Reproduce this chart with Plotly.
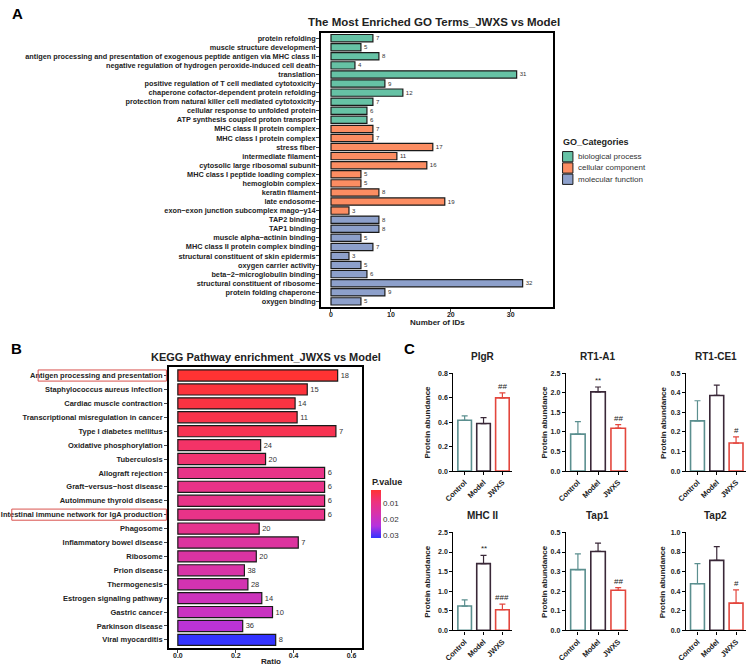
import plotly.graph_objects as go

W, H = 753, 672

# ---------------- Panel A data ----------------
bp_terms = ["protein refolding", "muscle structure development",
            "antigen processing and presentation of exogenous peptide antigen via MHC class II",
            "negative regulation of hydrogen peroxide-induced cell death", "translation",
            "positive regulation of T cell mediated cytotoxicity",
            "chaperone cofactor-dependent protein refolding",
            "protection from natural killer cell mediated cytotoxicity",
            "cellular response to unfolded protein", "ATP synthesis coupled proton transport"]
bp_counts = [7, 5, 8, 4, 31, 9, 12, 7, 6, 6]
cc_terms = ["MHC class II protein complex", "MHC class I protein complex", "stress fiber",
            "intermediate filament", "cytosolic large ribosomal subunit",
            "MHC class I peptide loading complex", "hemoglobin complex", "keratin filament",
            "late endosome", "exon\u2212exon junction subcomplex mago\u2212y14"]
cc_counts = [7, 7, 17, 11, 16, 5, 5, 8, 19, 3]
mf_terms = ["TAP2 binding", "TAP1 binding", "muscle alpha\u2212actinin binding",
            "MHC class II protein complex binding", "structural constituent of skin epidermis",
            "oxygen carrier activity", "beta\u22122\u2212microglobulin binding",
            "structural constituent of ribosome", "protein folding chaperone", "oxygen binding"]
mf_counts = [8, 8, 5, 7, 3, 5, 6, 32, 9, 5]
go_names = ["biological process", "cellular component", "molecular function"]
go_colors = ["#66c2a5", "#fc8d62", "#8da0cb"]

# ---------------- Panel B data ----------------
pathways = ["Antigen processing and presentation", "Staphylococcus aureus infection",
            "Cardiac muscle contraction", "Transcriptional misregulation in cancer",
            "Type I diabetes mellitus", "Oxidative phosphorylation", "Tuberculosis",
            "Allograft rejection", "Graft\u2212versus\u2212host disease", "Autoimmune thyroid disease",
            "Intestinal immune network for IgA production", "Phagosome",
            "Inflammatory bowel disease", "Ribosome", "Prion disease", "Thermogenesis",
            "Estrogen signaling pathway", "Gastric cancer", "Parkinson disease", "Viral myocarditis"]
ratios = [0.552, 0.447, 0.405, 0.412, 0.546, 0.286, 0.303, 0.507, 0.507, 0.507,
          0.507, 0.281, 0.416, 0.271, 0.230, 0.242, 0.290, 0.327, 0.224, 0.338]
kegg_counts = [18, 15, 14, 11, 7, 24, 20, 6, 6, 6, 6, 20, 7, 20, 38, 28, 14, 10, 36, 8]
pvals = [0.0017, 0.0026, 0.0032, 0.0040, 0.0047, 0.0068, 0.0077, 0.0107, 0.0107, 0.0107,
         0.0107, 0.0116, 0.0143, 0.0149, 0.0157, 0.0173, 0.0190, 0.0197, 0.0227, 0.0316]
p_ticks = [0.01, 0.02, 0.03]
boxed = ["Antigen processing and presentation", "Intestinal immune network for IgA production"]

# ---------------- Panel C data ----------------
groups = ["Control", "Model", "JWXS"]
group_colors = ["#5b8f8f", "#3a2838", "#e3463d"]
c_titles = ["PIgR", "RT1-A1", "RT1-CE1", "MHC II", "Tap1", "Tap2"]
c_means = [[0.415, 0.388, 0.598], [0.943, 2.02, 1.094], [0.256, 0.386, 0.143],
           [0.621, 1.703, 0.528], [0.310, 0.403, 0.205], [0.477, 0.715, 0.279]]
c_sds = [[0.035, 0.049, 0.041], [0.32, 0.126, 0.093], [0.103, 0.053, 0.032],
         [0.159, 0.21, 0.143], [0.081, 0.042, 0.013], [0.204, 0.141, 0.134]]
c_ymax = [0.8, 2.5, 0.5, 2.5, 0.5, 1.0]
c_dtick = [0.2, 0.5, 0.1, 0.5, 0.1, 0.2]
c_marks = [["", "", "##"], ["", "**", "##"], ["", "", "#"],
           ["", "**", "###"], ["", "", "##"], ["", "", "#"]]

FONT = "Liberation Sans, Arial, sans-serif"
INK = "#222222"


def px_x(v):
    return v / W


def px_y(v):
    return 1 - v / H


fig = go.Figure()

# Panel A bars
for name, terms, counts, col in zip(go_names, [bp_terms, cc_terms, mf_terms],
                                    [bp_counts, cc_counts, mf_counts], go_colors):
    fig.add_trace(go.Bar(
        x=counts, y=terms, orientation="h", name=name, width=0.8, showlegend=False,
        marker=dict(color=col, line=dict(color="#1a1a1a", width=1.2)),
        text=counts, textposition="outside", textfont=dict(size=7.5, color="#333", family=FONT),
        cliponaxis=False, xaxis="x", yaxis="y"))

all_terms = bp_terms + cc_terms + mf_terms

# Panel B bars
fig.add_trace(go.Bar(
    x=ratios, y=pathways, orientation="h", width=0.8, showlegend=False,
    marker=dict(color=[-p for p in pvals], coloraxis="coloraxis",
                line=dict(color="#1a1a1a", width=1.2)),
    text=kegg_counts, textposition="outside", textfont=dict(size=7.5, color="#333", family=FONT),
    cliponaxis=False, xaxis="x2", yaxis="y2"))

# Panel C bars
c_xdom = [(449.3, 508.6), (563.3, 626.6), (685.0, 745.6)]
c_ydom = [(373, 472), (534, 633)]
annotations = []
layout_axes = {}
for i in range(6):
    k = i + 3
    r, c = divmod(i, 3)
    for j, g in enumerate(groups):
        fig.add_trace(go.Bar(
            x=[g], y=[c_means[i][j]], width=0.72, showlegend=False,
            marker=dict(color="white", line=dict(color=group_colors[j], width=1.6)),
            error_y=dict(type="data", array=[c_sds[i][j]], arrayminus=[0], symmetric=False,
                         color=group_colors[j], thickness=1.2, width=3),
            xaxis=f"x{k}", yaxis=f"y{k}"))
        if c_marks[i][j]:
            annotations.append(dict(
                x=g, y=c_means[i][j] + c_sds[i][j], xref=f"x{k}", yref=f"y{k}",
                text=c_marks[i][j], showarrow=False, xanchor="center", yanchor="bottom",
                font=dict(size=8, color=INK, family=FONT)))
    x0, x1 = c_xdom[c]
    y0, y1 = c_ydom[r]
    layout_axes[f"xaxis{k}"] = dict(
        domain=[px_x(x0), px_x(x1)], anchor=f"y{k}", range=[-0.6, 2.5],
        categoryorder="array", categoryarray=groups,
        showline=True, linecolor="black", linewidth=1.2, ticks="outside", ticklen=3,
        tickcolor="black", tickangle=-45, showgrid=False, zeroline=False,
        tickfont=dict(size=7.5, color=INK, family=FONT, weight="bold"))
    layout_axes[f"yaxis{k}"] = dict(
        domain=[px_y(y1), px_y(y0)], anchor=f"x{k}", range=[0, c_ymax[i]],
        dtick=c_dtick[i], tickformat=".1f", showline=True, linecolor="black",
        linewidth=1.2, ticks="outside", ticklen=3, tickcolor="black", showgrid=False,
        zeroline=False, tickfont=dict(size=7, color=INK, family=FONT, weight="bold"))
    annotations.append(dict(
        x=px_x((x0 + x1) / 2), y=px_y(356 + 161 * r), xref="paper", yref="paper",
        text=c_titles[i], showarrow=False, font=dict(size=10, color=INK, family=FONT, weight="bold")))
    annotations.append(dict(
        x=px_x([423, 541.7, 661.7][c]), y=px_y((y0 + y1) / 2), xref="paper", yref="paper",
        text="Protein abundance", textangle=-90, showarrow=False,
        font=dict(size=8, color=INK, family=FONT, weight="bold")))

# Titles, labels
extra = [
    dict(x=px_x(430), y=px_y(18), text="The Most Enriched GO Terms_JWXS vs Model",
         font=dict(size=11.5, color=INK, family=FONT, weight="bold")),
    dict(x=px_x(433), y=px_y(322), text="Number of IDs",
         font=dict(size=8, color=INK, family=FONT, weight="bold")),
    dict(x=px_x(259), y=px_y(357), text="KEGG Pathway enrichment_JWXS vs Model",
         font=dict(size=11, color=INK, family=FONT, weight="bold")),
    dict(x=px_x(265), y=px_y(664), text="Ratio",
         font=dict(size=8, color=INK, family=FONT, weight="bold")),
    dict(x=px_x(8), y=px_y(10), text="A", font=dict(size=15, color="black", family=FONT, weight="bold")),
    dict(x=px_x(7), y=px_y(348), text="B", font=dict(size=15, color="black", family=FONT, weight="bold")),
    dict(x=px_x(405), y=px_y(348), text="C", font=dict(size=15, color="black", family=FONT, weight="bold")),
    dict(x=px_x(365), y=px_y(483), text="P.value", xanchor="left",
         font=dict(size=9, color=INK, family=FONT, weight="bold")),
    dict(x=px_x(558), y=px_y(139), text="GO_Categories", xanchor="left",
         font=dict(size=9, color=INK, family=FONT, weight="bold")),
]
for a in extra:
    a.update(xref="paper", yref="paper", showarrow=False)
annotations += extra

shapes = []
# manual legend for GO categories
for n, (name, col) in enumerate(zip(go_names, go_colors)):
    yc = 154.3 + 11.4 * n
    shapes.append(dict(type="rect", xref="paper", yref="paper",
                       x0=px_x(560), x1=px_x(570.5), y0=px_y(yc + 5.2), y1=px_y(yc - 5.2),
                       fillcolor=col, line=dict(color="#1a1a1a", width=1)))
    annotations.append(dict(x=px_x(573.5), y=px_y(yc), xref="paper", yref="paper",
                            text=name, xanchor="left", showarrow=False,
                            font=dict(size=8, color="#333", family=FONT)))

for a in annotations:
    a.setdefault("xanchor", "center")
    a.setdefault("yanchor", "middle")

# red boxes around highlighted KEGG labels
box_left = {boxed[0]: 28.5, boxed[1]: 1.8}
for name in boxed:
    idx = len(pathways) - 1 - pathways.index(name)
    shapes.append(dict(type="rect", xref="paper", yref="y2",
                       x0=px_x(box_left[name]), x1=px_x(158.5), y0=idx - 0.4, y1=idx + 0.4,
                       line=dict(color="#d9534f", width=1)))

fig.update_layout(
    width=W, height=H, margin=dict(l=0, r=0, t=0, b=0),
    paper_bgcolor="white", plot_bgcolor="white", barmode="overlay", showlegend=False,
    font=dict(family=FONT, color=INK),
    xaxis=dict(domain=[px_x(315), px_x(550.5)], anchor="y", range=[-1.7, 37.1],
               tickvals=[0, 10, 20, 30], showline=True, mirror=True, linecolor="black",
               linewidth=1.5, ticks="outside", ticklen=3, showgrid=False, zeroline=False,
               ticklabelstandoff=-3,
               tickfont=dict(size=7, color=INK, family=FONT, weight="bold")),
    yaxis=dict(domain=[px_y(306), px_y(29)], anchor="x", categoryorder="array",
               categoryarray=all_terms[::-1], range=[-0.6, 29.6], showline=True, mirror=True,
               linecolor="black", linewidth=1.5, ticks="outside", ticklen=3, showgrid=False,
               ticklabelstandoff=-1,
               tickfont=dict(size=7.3, color=INK, family=FONT, weight="bold")),
    xaxis2=dict(domain=[px_x(161), px_x(357)], anchor="y2", range=[-0.031, 0.637],
                tickvals=[0, 0.2, 0.4, 0.6], tickformat=".1f", showline=True, mirror=True,
                linecolor="black", linewidth=1.5, ticks="outside", ticklen=3, showgrid=False,
                zeroline=False, ticklabelstandoff=-3,
                tickfont=dict(size=7, color=INK, family=FONT, weight="bold")),
    yaxis2=dict(domain=[px_y(651), px_y(367)], anchor="x2", categoryorder="array",
                categoryarray=pathways[::-1], range=[-0.6, 19.6], showline=True, mirror=True,
                linecolor="black", linewidth=1.5, ticks="outside", ticklen=3, showgrid=False,
                tickfont=dict(size=7.5, color=INK, family=FONT, weight="bold")),
    coloraxis=dict(
        cmin=-0.0316, cmax=-0.0017,
        colorscale=[[0.0, "#3333ff"], [0.25, "#b533de"], [0.5, "#d633ad"],
                    [0.75, "#ed337f"], [1.0, "#ff3333"]],
        colorbar=dict(x=px_x(366), xanchor="left", y=px_y(515.5), yanchor="middle",
                      len=48 / H, lenmode="fraction", thickness=9.5, outlinewidth=0,
                      ypad=0, xpad=0,
                      tickvals=[-p for p in p_ticks], ticktext=[f"{p:.2f}" for p in p_ticks],
                      ticks="", tickfont=dict(size=8, color="#333", family=FONT))),
    annotations=annotations, shapes=shapes,
    **layout_axes,
)

fig.write_html("out.html", config={"displayModeBar": False},
               post_script="document.body.style.margin='0';document.body.style.padding='0';"
                           "document.documentElement.style.overflow='hidden';")
